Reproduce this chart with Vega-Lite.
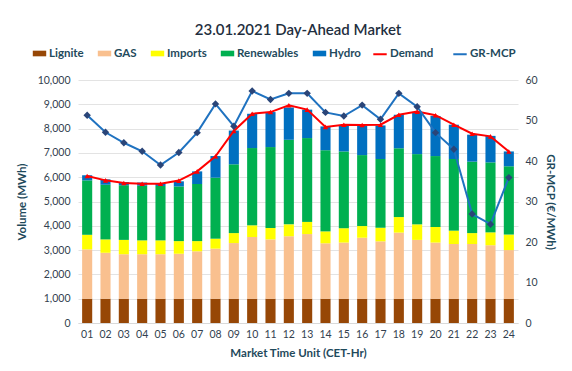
{
  "$schema": "https://vega.github.io/schema/vega-lite/v6.json",
  "width": 440,
  "height": 243,
  "padding": {"left": 16, "top": 23, "right": 5, "bottom": 5},
  "background": "white",
  "title": {"text": "23.01.2021  Day-Ahead Market", "fontSize": 15, "font": "Lato", "fontWeight": 600, "color": "#1F2F40", "offset": 8, "anchor": "middle"},
  "datasets": {
    "bars": [
      {"hour":"01","source":"Lignite","value":1000},{"hour":"01","source":"GAS","value":2030},{"hour":"01","source":"Imports","value":600},{"hour":"01","source":"Renewables","value":2240},{"hour":"01","source":"Hydro","value":210},
      {"hour":"02","source":"Lignite","value":1000},{"hour":"02","source":"GAS","value":1890},{"hour":"02","source":"Imports","value":550},{"hour":"02","source":"Renewables","value":2250},{"hour":"02","source":"Hydro","value":220},
      {"hour":"03","source":"Lignite","value":1000},{"hour":"03","source":"GAS","value":1830},{"hour":"03","source":"Imports","value":590},{"hour":"03","source":"Renewables","value":2250},{"hour":"03","source":"Hydro","value":130},
      {"hour":"04","source":"Lignite","value":1000},{"hour":"04","source":"GAS","value":1830},{"hour":"04","source":"Imports","value":570},{"hour":"04","source":"Renewables","value":2250},{"hour":"04","source":"Hydro","value":130},
      {"hour":"05","source":"Lignite","value":1000},{"hour":"05","source":"GAS","value":1830},{"hour":"05","source":"Imports","value":570},{"hour":"05","source":"Renewables","value":2240},{"hour":"05","source":"Hydro","value":110},
      {"hour":"06","source":"Lignite","value":1000},{"hour":"06","source":"GAS","value":1850},{"hour":"06","source":"Imports","value":520},{"hour":"06","source":"Renewables","value":2250},{"hour":"06","source":"Hydro","value":210},
      {"hour":"07","source":"Lignite","value":1000},{"hour":"07","source":"GAS","value":1950},{"hour":"07","source":"Imports","value":420},{"hour":"07","source":"Renewables","value":2350},{"hour":"07","source":"Hydro","value":520},
      {"hour":"08","source":"Lignite","value":1000},{"hour":"08","source":"GAS","value":2060},{"hour":"08","source":"Imports","value":410},{"hour":"08","source":"Renewables","value":2510},{"hour":"08","source":"Hydro","value":890},
      {"hour":"09","source":"Lignite","value":1000},{"hour":"09","source":"GAS","value":2290},{"hour":"09","source":"Imports","value":410},{"hour":"09","source":"Renewables","value":2830},{"hour":"09","source":"Hydro","value":1390},
      {"hour":"10","source":"Lignite","value":1000},{"hour":"10","source":"GAS","value":2540},{"hour":"10","source":"Imports","value":480},{"hour":"10","source":"Renewables","value":3180},{"hour":"10","source":"Hydro","value":1410},
      {"hour":"11","source":"Lignite","value":1000},{"hour":"11","source":"GAS","value":2440},{"hour":"11","source":"Imports","value":470},{"hour":"11","source":"Renewables","value":3330},{"hour":"11","source":"Hydro","value":1440},
      {"hour":"12","source":"Lignite","value":1000},{"hour":"12","source":"GAS","value":2570},{"hour":"12","source":"Imports","value":490},{"hour":"12","source":"Renewables","value":3480},{"hour":"12","source":"Hydro","value":1330},
      {"hour":"13","source":"Lignite","value":1000},{"hour":"13","source":"GAS","value":2660},{"hour":"13","source":"Imports","value":500},{"hour":"13","source":"Renewables","value":3450},{"hour":"13","source":"Hydro","value":1170},
      {"hour":"14","source":"Lignite","value":1000},{"hour":"14","source":"GAS","value":2280},{"hour":"14","source":"Imports","value":490},{"hour":"14","source":"Renewables","value":3340},{"hour":"14","source":"Hydro","value":980},
      {"hour":"15","source":"Lignite","value":1000},{"hour":"15","source":"GAS","value":2310},{"hour":"15","source":"Imports","value":590},{"hour":"15","source":"Renewables","value":3160},{"hour":"15","source":"Hydro","value":1070},
      {"hour":"16","source":"Lignite","value":1000},{"hour":"16","source":"GAS","value":2510},{"hour":"16","source":"Imports","value":480},{"hour":"16","source":"Renewables","value":2920},{"hour":"16","source":"Hydro","value":1200},
      {"hour":"17","source":"Lignite","value":1000},{"hour":"17","source":"GAS","value":2360},{"hour":"17","source":"Imports","value":560},{"hour":"17","source":"Renewables","value":2830},{"hour":"17","source":"Hydro","value":1380},
      {"hour":"18","source":"Lignite","value":1000},{"hour":"18","source":"GAS","value":2720},{"hour":"18","source":"Imports","value":640},{"hour":"18","source":"Renewables","value":2830},{"hour":"18","source":"Hydro","value":1380},
      {"hour":"19","source":"Lignite","value":1000},{"hour":"19","source":"GAS","value":2420},{"hour":"19","source":"Imports","value":640},{"hour":"19","source":"Renewables","value":2890},{"hour":"19","source":"Hydro","value":1730},
      {"hour":"20","source":"Lignite","value":1000},{"hour":"20","source":"GAS","value":2310},{"hour":"20","source":"Imports","value":640},{"hour":"20","source":"Renewables","value":2920},{"hour":"20","source":"Hydro","value":1650},
      {"hour":"21","source":"Lignite","value":1000},{"hour":"21","source":"GAS","value":2250},{"hour":"21","source":"Imports","value":550},{"hour":"21","source":"Renewables","value":2950},{"hour":"21","source":"Hydro","value":1410},
      {"hour":"22","source":"Lignite","value":1000},{"hour":"22","source":"GAS","value":2250},{"hour":"22","source":"Imports","value":450},{"hour":"22","source":"Renewables","value":2940},{"hour":"22","source":"Hydro","value":1110},
      {"hour":"23","source":"Lignite","value":1000},{"hour":"23","source":"GAS","value":2200},{"hour":"23","source":"Imports","value":530},{"hour":"23","source":"Renewables","value":2880},{"hour":"23","source":"Hydro","value":1090},
      {"hour":"24","source":"Lignite","value":1000},{"hour":"24","source":"GAS","value":2000},{"hour":"24","source":"Imports","value":640},{"hour":"24","source":"Renewables","value":2810},{"hour":"24","source":"Hydro","value":610}
    ],
    "lines": [
      {"hour":"01","Demand":6050,"MCP":51.3},{"hour":"02","Demand":5870,"MCP":47.1},{"hour":"03","Demand":5760,"MCP":44.5},{"hour":"04","Demand":5730,"MCP":42.4},
      {"hour":"05","Demand":5730,"MCP":39.0},{"hour":"06","Demand":5860,"MCP":42.1},{"hour":"07","Demand":6240,"MCP":47.0},{"hour":"08","Demand":6860,"MCP":54.1},
      {"hour":"09","Demand":7900,"MCP":48.6},{"hour":"10","Demand":8610,"MCP":57.3},{"hour":"11","Demand":8680,"MCP":55.2},{"hour":"12","Demand":8960,"MCP":56.7},
      {"hour":"13","Demand":8780,"MCP":56.7},{"hour":"14","Demand":8070,"MCP":52.0},{"hour":"15","Demand":8160,"MCP":51.1},{"hour":"16","Demand":8150,"MCP":53.8},
      {"hour":"17","Demand":8160,"MCP":50.3},{"hour":"18","Demand":8570,"MCP":56.7},{"hour":"19","Demand":8700,"MCP":53.4},{"hour":"20","Demand":8550,"MCP":47.0},
      {"hour":"21","Demand":8160,"MCP":42.9},{"hour":"22","Demand":7790,"MCP":26.9},{"hour":"23","Demand":7680,"MCP":24.4},{"hour":"24","Demand":7060,"MCP":35.9}
    ]
  },
  "encoding": {
    "x": {"field": "hour", "type": "ordinal", "scale": {"paddingInner": 0.45},
      "axis": {"title": "Market Time Unit (CET-Hr)", "labelAngle": 0, "ticks": false, "domainColor": "#D9D9D9", "labelPadding": 6, "titlePadding": 8}}
  },
  "layer": [
    {
      "layer": [
        {
          "data": {"name": "bars"},
          "mark": {"type": "bar"},
          "encoding": {
            "y": {"field": "value", "type": "quantitative", "stack": "zero", "scale": {"domain": [0, 10000]},
              "axis": {"title": "Volume (MWh)", "format": ",.0f", "values": [0,1000,2000,3000,4000,5000,6000,7000,8000,9000,10000], "labelOverlap": false, "grid": true, "domain": false, "ticks": false, "labelPadding": 8, "titlePadding": 10}},
            "color": {"field": "source", "type": "nominal",
              "scale": {"domain": ["Lignite","GAS","Imports","Renewables","Hydro"], "range": ["#974706","#F9C08F","#FFFF00","#00B050","#0070C0"]},
              "legend": {"title": null, "orient": "none", "direction": "horizontal", "legendX": -46, "legendY": -34, "symbolType": "M-1,-0.42H1V0.42H-1Z", "symbolSize": 180, "columnPadding": 13, "labelOffset": 2}},
            "order": {"field": "sortkey"}
          },
          "transform": [{"calculate": "indexof(['Lignite','GAS','Imports','Renewables','Hydro'], datum.source)", "as": "sortkey"}]
        },
        {
          "data": {"name": "lines"},
          "mark": {"type": "line", "strokeWidth": 2},
          "encoding": {
            "y": {"field": "Demand", "type": "quantitative",
              "axis": {"title": "Volume (MWh)", "format": ",.0f", "values": [0,1000,2000,3000,4000,5000,6000,7000,8000,9000,10000], "labelOverlap": false, "grid": true, "domain": false, "ticks": false, "labelPadding": 8, "titlePadding": 10}},
            "stroke": {"datum": "Demand", "type": "nominal",
              "scale": {"domain": ["Demand","GR-MCP"], "range": ["#FF0000","#1F72C0"]},
              "legend": {"title": null, "orient": "none", "direction": "horizontal", "legendX": 294, "legendY": -34, "symbolType": "stroke", "symbolStrokeWidth": 2, "symbolSize": 180, "columnPadding": 15, "labelOffset": 2}}
          }
        },
        {
          "data": {"name": "lines"},
          "mark": {"type": "point", "shape": "triangle-up", "filled": true, "size": 28, "color": "#FF0000", "opacity": 1},
          "encoding": {"y": {"field": "Demand", "type": "quantitative",
              "axis": {"title": "Volume (MWh)", "format": ",.0f", "values": [0,1000,2000,3000,4000,5000,6000,7000,8000,9000,10000], "labelOverlap": false, "grid": true, "domain": false, "ticks": false, "labelPadding": 8, "titlePadding": 10}}}
        }
      ]
    },
    {
      "layer": [
        {
          "data": {"name": "lines"},
          "mark": {"type": "line", "strokeWidth": 2},
          "encoding": {
            "y": {"field": "MCP", "type": "quantitative", "scale": {"domain": [0, 60]},
              "axis": {"orient": "right", "title": "GR-MCP (€/MWh)", "values": [0,10,20,30,40,50,60], "grid": false, "domain": false, "ticks": false, "labelPadding": 7, "titlePadding": 7}},
            "stroke": {"datum": "GR-MCP", "type": "nominal"}
          }
        },
        {
          "data": {"name": "lines"},
          "mark": {"type": "point", "shape": "diamond", "filled": true, "size": 55, "color": "#2A4578", "opacity": 1},
          "encoding": {"y": {"field": "MCP", "type": "quantitative",
              "axis": {"orient": "right", "title": "GR-MCP (€/MWh)", "values": [0,10,20,30,40,50,60], "grid": false, "domain": false, "ticks": false, "labelPadding": 7, "titlePadding": 7}}}
        }
      ]
    }
  ],
  "resolve": {"scale": {"y": "independent"}},
  "config": {
    "font": "Lato",
    "view": {"stroke": null},
    "axis": {"labelFont": "Lato", "labelFontSize": 10.5, "labelColor": "#333F4F", "titleFont": "Lato", "titleFontSize": 11.5, "titleFontWeight": "bold", "titleColor": "#1F4A5C", "gridColor": "#E3E3E3"},
    "legend": {"labelFont": "Lato", "labelFontSize": 11.5, "labelFontWeight": "bold", "labelColor": "#1F4A5C"}
  }
}
